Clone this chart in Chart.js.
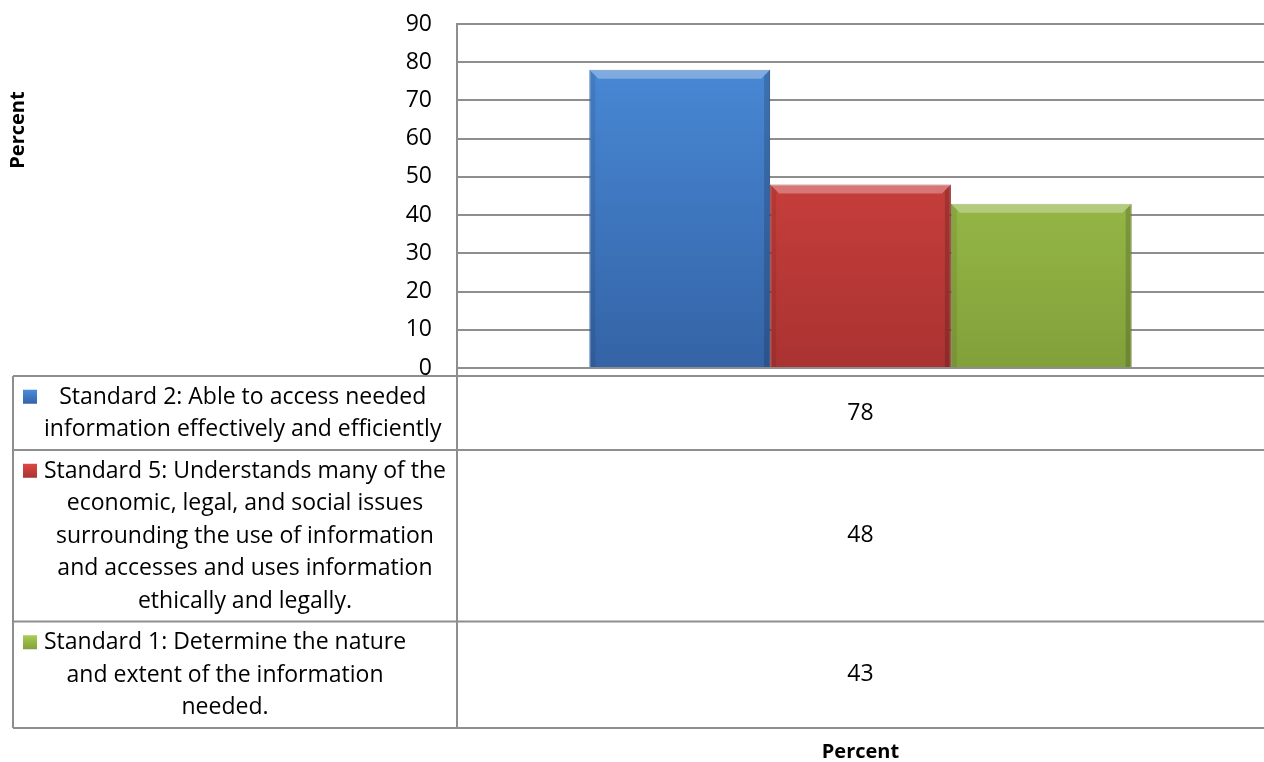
<!DOCTYPE html>
<html>
<head>
<meta charset="utf-8">
<script src="https://cdn.jsdelivr.net/npm/chart.js@4.4.1/dist/chart.umd.min.js"></script>
<style>
  html, body { margin: 0; padding: 0; background: #fff; }
  #wrap { width: 1264px; height: 762px; }
</style>
</head>
<body>
<div id="wrap"><canvas id="chart" width="1264" height="762"></canvas></div>
<script>
// data
const categories = ['Percent'];
const seriesNames = [
  ['Standard 2: Able to access needed', 'information effectively and efficiently'],
  ['Standard 5: Understands many of the', 'economic, legal, and social issues', 'surrounding the use of information', 'and accesses and uses information', 'ethically and legally.'],
  ['Standard 1: Determine the nature', 'and extent of the information', 'needed.']
];
const seriesValues = [78, 48, 43];
const yMin = 0, yMax = 90, yStep = 10;

// colours (top, bottom of the gradient)
const seriesColors = [
  ['#4b8ddb', '#3463a6'],
  ['#de4744', '#a93331'],
  ['#a8ce52', '#82a03a']
];
const gridColor = '#8e8e8e';
const fontFamily = "'Open Sans', 'Noto Sans', sans-serif";

function gradFor(ctx, area, i) {
  if (!area) return seriesColors[i][0];
  const g = ctx.createLinearGradient(0, area.top, 0, area.bottom);
  g.addColorStop(0, seriesColors[i][0]);
  g.addColorStop(1, seriesColors[i][1]);
  return g;
}

// draws the data table under the plot plus the two "Percent" titles
const dataTablePlugin = {
  id: 'dataTable',
  afterDatasetsDraw(chart) {
    // a little bevel on each bar, like the Excel style
    const ctx = chart.ctx;
    chart.data.datasets.forEach((ds, i) => {
      chart.getDatasetMeta(i).data.forEach(bar => {
        const l = bar.x - bar.width / 2, r = bar.x + bar.width / 2;
        const t = bar.y, b = bar.base;
        ctx.save();
        ctx.fillStyle = 'rgba(255,255,255,0.30)';
        ctx.beginPath();
        ctx.moveTo(l, t); ctx.lineTo(r, t); ctx.lineTo(r - 9, t + 9); ctx.lineTo(l + 9, t + 9);
        ctx.closePath(); ctx.fill();
        ctx.fillStyle = 'rgba(0,0,0,0.16)';
        ctx.beginPath();
        ctx.moveTo(r, t); ctx.lineTo(r, b); ctx.lineTo(r - 6, b); ctx.lineTo(r - 6, t + 6);
        ctx.closePath(); ctx.fill();
        ctx.fillStyle = 'rgba(0,0,0,0.08)';
        ctx.beginPath();
        ctx.moveTo(l, t); ctx.lineTo(l + 6, t + 6); ctx.lineTo(l + 6, b); ctx.lineTo(l, b);
        ctx.closePath(); ctx.fill();
        ctx.restore();
      });
    });
  },
  afterDraw(chart) {
    const ctx = chart.ctx;
    const area = chart.chartArea;
    const tableLeft = 13, tableRight = chart.width;
    const divX = area.left;
    const lineH = 32.5;
    let top = area.bottom + 8;
    const rowTops = [top];
    seriesNames.forEach(lines => {
      top += lines.length * lineH + 9;
      rowTops.push(top);
    });

    ctx.save();
    ctx.strokeStyle = gridColor;
    ctx.lineWidth = 2;
    rowTops.forEach(y => {
      ctx.beginPath(); ctx.moveTo(tableLeft, y); ctx.lineTo(tableRight, y); ctx.stroke();
    });
    ctx.beginPath(); ctx.moveTo(tableLeft, rowTops[0]); ctx.lineTo(tableLeft, top); ctx.stroke();
    ctx.beginPath(); ctx.moveTo(divX, area.bottom); ctx.lineTo(divX, top); ctx.stroke();

    ctx.font = '23px ' + fontFamily;
    ctx.fillStyle = '#000';
    ctx.textBaseline = 'middle';
    ctx.textAlign = 'center';
    const textLeft = 44;
    seriesNames.forEach((lines, i) => {
      const rowTop = rowTops[i];
      // legend key
      const ky = rowTop + 20.75 - 7;
      const kg = ctx.createLinearGradient(0, ky, 0, ky + 14);
      kg.addColorStop(0, seriesColors[i][0]);
      kg.addColorStop(1, seriesColors[i][1]);
      ctx.fillStyle = kg;
      ctx.fillRect(23, ky, 14, 14);
      ctx.fillStyle = '#000';
      const w = Math.max(...lines.map(s => ctx.measureText(s).width));
      const cx = textLeft + w / 2;
      lines.forEach((s, j) => {
        ctx.fillText(s, cx, rowTop + 21 + j * lineH);
      });
      // value cell
      ctx.fillText(String(seriesValues[i]), (divX + tableRight) / 2, (rowTop + rowTops[i + 1]) / 2);
    });

    // axis titles
    ctx.font = 'bold 20px ' + fontFamily;
    ctx.fillText(categories[0], (divX + tableRight) / 2, 752);
    ctx.translate(18, 130);
    ctx.rotate(-Math.PI / 2);
    ctx.fillText('Percent', 0, 0);
    ctx.restore();
  }
};

new Chart(document.getElementById('chart'), {
  type: 'bar',
  data: {
    labels: categories,
    datasets: seriesValues.map((v, i) => ({
      label: seriesNames[i].join(' '),
      data: [v],
      backgroundColor: c => gradFor(c.chart.ctx, c.chart.chartArea, i),
      borderColor: seriesColors[i][1],
      borderWidth: 1,
      categoryPercentage: 0.672,
      barPercentage: 1
    }))
  },
  options: {
    responsive: false,
    devicePixelRatio: 1,
    animation: false,
    layout: { autoPadding: false, padding: { top: 24, bottom: 394, left: 0, right: 0 } },
    plugins: {
      legend: { display: false },
      tooltip: { enabled: false }
    },
    scales: {
      x: {
        grid: { display: false },
        border: { display: false },
        ticks: { display: false },
        afterFit: s => { s.height = 0; }
      },
      y: {
        min: yMin,
        max: yMax,
        ticks: {
          stepSize: yStep,
          padding: 0,
          color: '#000',
          font: { family: fontFamily, size: 23 }
        },
        // invisible tick marks give the gap between labels and axis
        grid: { color: gridColor, lineWidth: 2, drawTicks: true, tickLength: 25, tickColor: 'rgba(0,0,0,0)' },
        border: { display: true, color: gridColor, width: 2 },
        afterFit: s => { s.width = 457; }
      }
    }
  },
  plugins: [dataTablePlugin]
});
</script>
</body>
</html>
